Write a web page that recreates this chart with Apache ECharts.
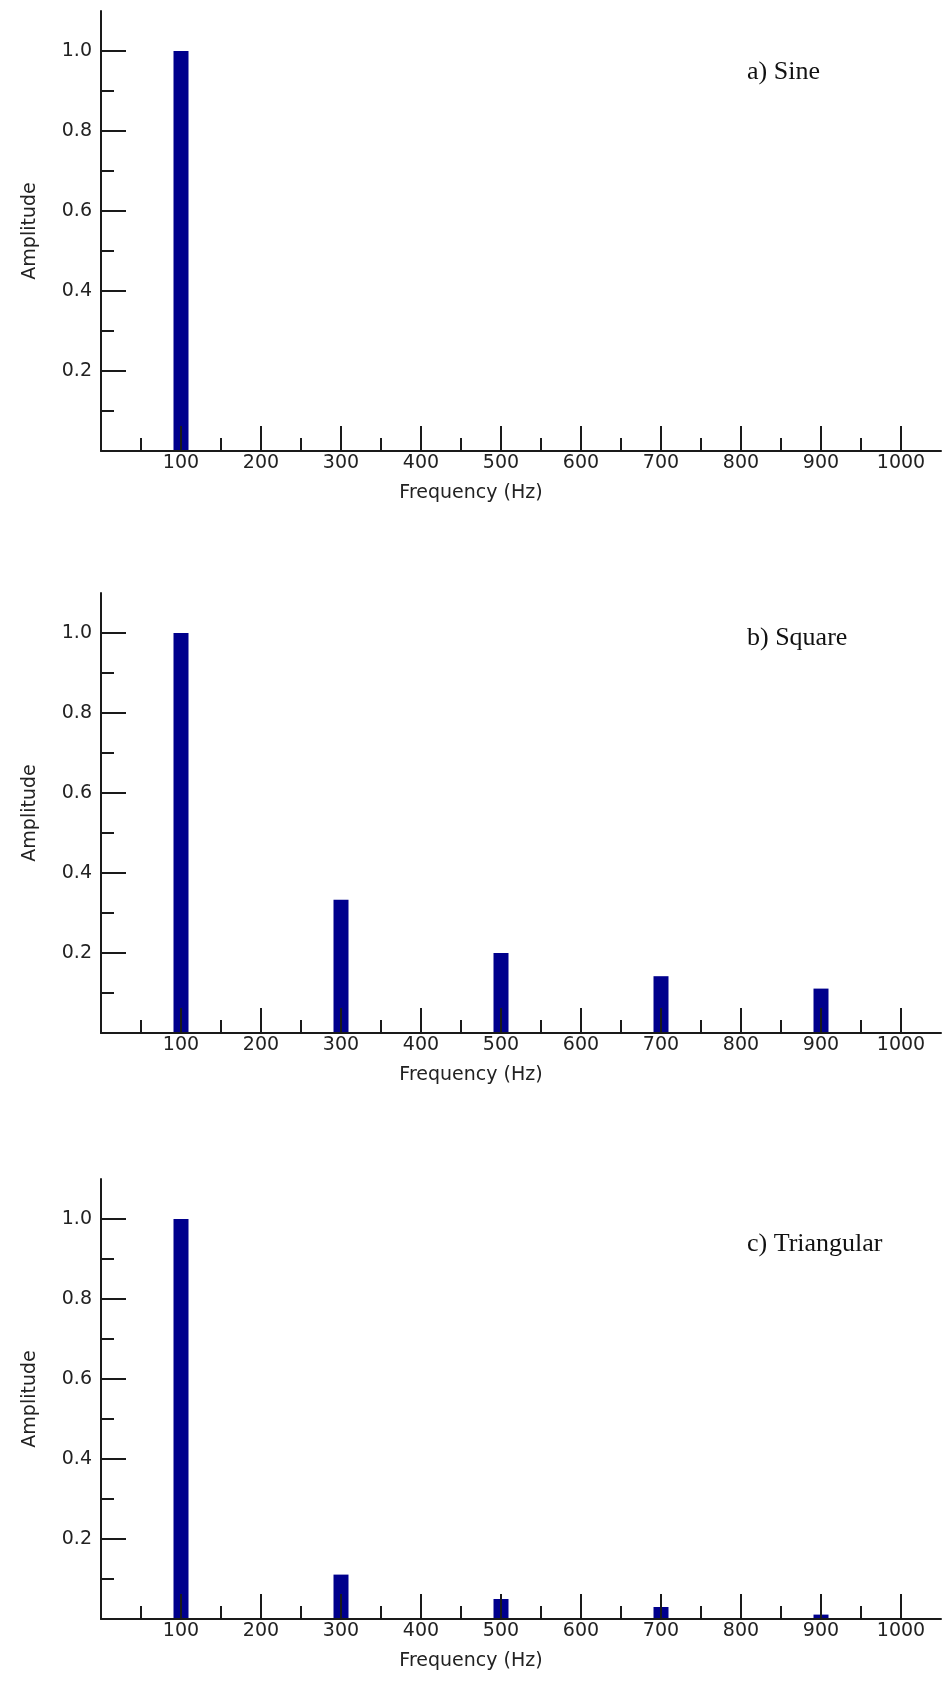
<!DOCTYPE html>
<html>
<head>
<meta charset="utf-8">
<script src="https://cdn.jsdelivr.net/npm/echarts@6/dist/echarts.min.js"></script>
<style>
  html, body { margin: 0; padding: 0; background: #ffffff; }
  #chart { width: 948px; height: 1681px; }
</style>
</head>
<body>
<div id="chart"></div>
<script>
// ---- data ----
const freqTicks = [100, 200, 300, 400, 500, 600, 700, 800, 900, 1000];
const freqMinorTicks = [50, 150, 250, 350, 450, 550, 650, 750, 850, 950];
const ampTicks = [0.2, 0.4, 0.6, 0.8, 1.0];
const ampMinorTicks = [0.1, 0.3, 0.5, 0.7, 0.9];

const sineFreq = [100];
const sineAmp = [1.0];

const squareFreq = [100, 300, 500, 700, 900];
const squareAmp = [1.0, 0.333, 0.2, 0.142, 0.111];

const triFreq = [100, 300, 500, 700, 900];
const triAmp = [1.0, 0.111, 0.05, 0.03, 0.011];

const titles = ['a) Sine', 'b) Square', 'c) Triangular'];
const panels = [
  { freq: sineFreq, amp: sineAmp },
  { freq: squareFreq, amp: squareAmp },
  { freq: triFreq, amp: triAmp }
];

// ---- layout ----
const gridTops = [11, 593, 1179];
const gridHeight = 440;
const gridLeft = 101;
const gridWidth = 840;
const titleTops = [59, 625, 1231];

const axisColor = '#1a1a1a';
const labelColor = '#222222';
const sansFont = 'DejaVu Sans';

const grid = [], xAxis = [], yAxis = [], series = [], title = [];

panels.forEach((p, i) => {
  grid.push({ left: gridLeft, top: gridTops[i], width: gridWidth, height: gridHeight, containLabel: false });

  title.push({
    text: titles[i],
    left: 747,
    top: titleTops[i],
    padding: 0,
    textStyle: { fontFamily: 'Liberation Serif', fontSize: 26, fontWeight: 'normal', color: '#111' }
  });

  // main x axis
  xAxis.push({
    type: 'value', gridIndex: i, min: 0, max: 1050, position: 'bottom', z: 5,
    name: 'Frequency (Hz)', nameLocation: 'middle', nameGap: 33,
    nameTextStyle: { fontFamily: sansFont, fontSize: 19, color: labelColor, padding: [0, 100, 0, 0] },
    axisLine: { show: true, onZero: false, lineStyle: { color: axisColor, width: 2 } },
    axisTick: { show: true, inside: true, length: 25, customValues: freqTicks, lineStyle: { color: axisColor, width: 2 } },
    axisLabel: { show: true, customValues: freqTicks, margin: 3, fontFamily: sansFont, fontSize: 19, color: labelColor,
      formatter: v => String(Math.round(v)) },
    splitLine: { show: false }
  });
  // minor x ticks
  xAxis.push({
    type: 'value', gridIndex: i, min: 0, max: 1050, position: 'bottom', z: 5,
    axisLine: { show: false },
    axisTick: { show: true, inside: true, length: 13, customValues: freqMinorTicks, lineStyle: { color: axisColor, width: 2 } },
    axisLabel: { show: false },
    splitLine: { show: false }
  });

  // main y axis
  yAxis.push({
    type: 'value', gridIndex: i, min: 0, max: 1.1, position: 'left', z: 5,
    name: 'Amplitude', nameLocation: 'middle', nameGap: 61, nameRotate: 90,
    nameTextStyle: { fontFamily: sansFont, fontSize: 19, color: labelColor },
    axisLine: { show: true, onZero: false, lineStyle: { color: axisColor, width: 2 } },
    axisTick: { show: true, inside: true, length: 25, customValues: ampTicks, lineStyle: { color: axisColor, width: 2 } },
    axisLabel: { show: true, customValues: ampTicks, margin: 9, fontFamily: sansFont, fontSize: 19, color: labelColor,
      formatter: v => Number(v).toFixed(1) },
    splitLine: { show: false }
  });
  // minor y ticks
  yAxis.push({
    type: 'value', gridIndex: i, min: 0, max: 1.1, position: 'left', z: 5,
    axisLine: { show: false },
    axisTick: { show: true, inside: true, length: 13, customValues: ampMinorTicks, lineStyle: { color: axisColor, width: 2 } },
    axisLabel: { show: false },
    splitLine: { show: false }
  });

  series.push({
    type: 'bar',
    xAxisIndex: i * 2,
    yAxisIndex: i * 2,
    barWidth: 15,
    itemStyle: { color: '#00008c' },
    data: p.freq.map((f, k) => [f, p.amp[k]]),
    z: 2
  });
});

const chart = echarts.init(document.getElementById('chart'), null, { renderer: 'canvas' });
chart.setOption({
  animation: false,
  backgroundColor: '#ffffff',
  title, grid, xAxis, yAxis, series
});
</script>
</body>
</html>
